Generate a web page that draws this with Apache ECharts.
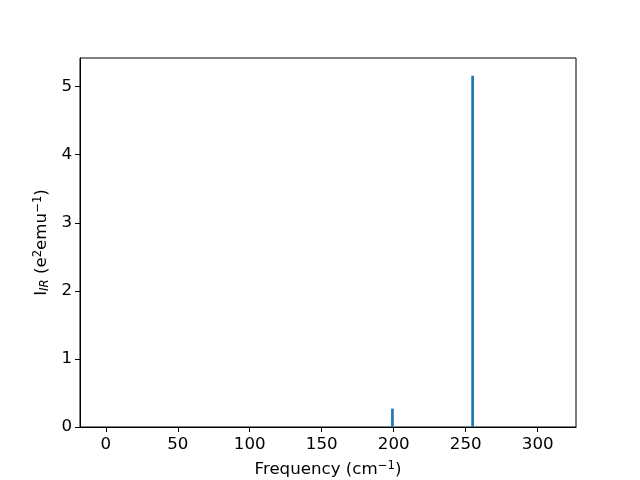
<!DOCTYPE html>
<html>
<head>
<meta charset="utf-8">
<script src="https://cdn.jsdelivr.net/npm/echarts@6/dist/echarts.min.js"></script>
<style>html,body{margin:0;padding:0;background:#fff}#c{width:640px;height:480px}</style>
</head>
<body>
<div id="c"></div>
<script>
const frequencies = [199.1, 254.8];
const intensities = [0.27, 5.16];
const xTicks = [0, 50, 100, 150, 200, 250, 300];
const yTicks = [0, 1, 2, 3, 4, 5];

const chart = echarts.init(document.getElementById('c'), null, {renderer: 'canvas'});
const font = 'DejaVu Sans';
const fs = 16.67;
const sfs = 11.7;
const lineStyle = {color: '#000', width: 1};
chart.setOption({
  animation: false,
  backgroundColor: '#fff',
  grid: {left: 80, right: 64, top: 58, bottom: 53, show: true, borderColor: '#000', borderWidth: 1,
         containLabel: false, outerBoundsMode: 'none'},
  xAxis: {
    type: 'value', min: -17.9, max: 326.6,
    axisLine: {show: true, onZero: false, lineStyle: lineStyle},
    splitLine: {show: false},
    axisTick: {show: true, length: 5, lineStyle: lineStyle, customValues: xTicks},
    axisLabel: {customValues: xTicks, color: '#000', fontFamily: font, fontSize: fs, margin: 9},
    name: '{a|Frequency (cm}{s|−1}{a|)}',
    nameLocation: 'middle', nameGap: 33,
    nameTextStyle: {rich: {
      a: {fontFamily: font, fontSize: fs, color: '#000'},
      s: {fontFamily: font, fontSize: sfs, color: '#000', padding: [0,0,8,0]}
    }}
  },
  yAxis: {
    type: 'value', min: 0, max: 5.42,
    axisLine: {show: true, onZero: false, lineStyle: lineStyle},
    splitLine: {show: false},
    axisTick: {show: true, length: 5, lineStyle: lineStyle, customValues: yTicks},
    axisLabel: {customValues: yTicks, color: '#000', fontFamily: font, fontSize: fs, margin: 8},
    name: '{a|I}{b|IR}{a| (e}{s|2}{a|emu}{s|−1}{a|)}',
    nameLocation: 'middle', nameRotate: 90, nameGap: 22,
    nameTextStyle: {rich: {
      a: {fontFamily: font, fontSize: fs, color: '#000'},
      b: {fontFamily: font, fontSize: sfs, fontStyle: 'italic', color: '#000', padding: [6,0,0,0]},
      s: {fontFamily: font, fontSize: sfs, color: '#000', padding: [0,0,8,0]}
    }}
  },
  series: [{
    type: 'bar',
    data: frequencies.map((f, i) => [f, intensities[i]]),
    barWidth: 2.7,
    itemStyle: {color: '#1f77b4'}
  }]
});
</script>
</body>
</html>
